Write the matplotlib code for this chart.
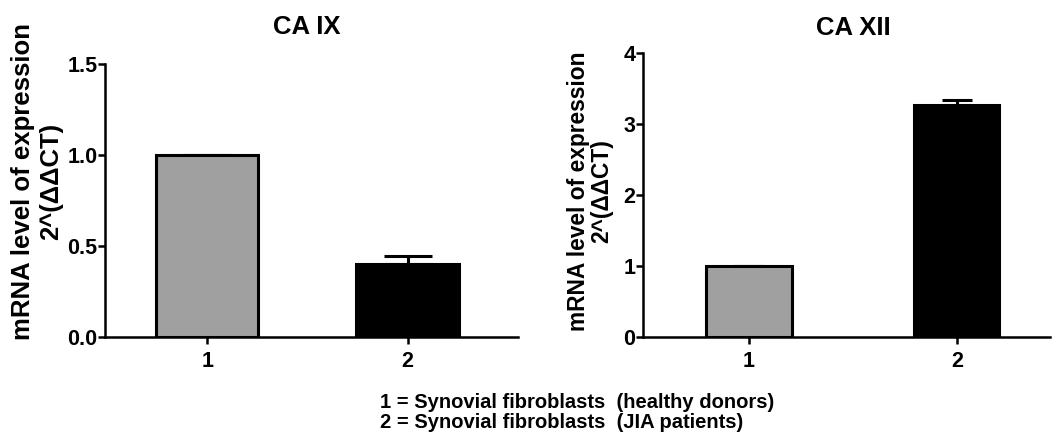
import matplotlib.pyplot as plt
import numpy as np

plt.rcParams['font.family'] = ['Liberation Sans', 'DejaVu Sans']
plt.rcParams['font.weight'] = 'bold'

groups = ['1', '2']
ca9_values = [1.0, 0.40]
ca9_err = [0.0, 0.045]
ca12_values = [1.0, 3.26]
ca12_err = [0.0, 0.07]
bar_colors = ['#a0a0a0', '#000000']
ylabel = 'mRNA level of expression\n2^(\u0394\u0394CT)'
legend_lines = ['1 = Synovial fibroblasts  (healthy donors)',
                '2 = Synovial fibroblasts  (JIA patients)']

fig = plt.figure(figsize=(10.61, 4.37), dpi=100)
ax1 = fig.add_axes([0.099, 0.229, 0.389, 0.625])
ax2 = fig.add_axes([0.606, 0.229, 0.384, 0.650])


def draw_panel(ax, values, err, width, capsize, yticks, ylim, xlim):
    x = np.arange(1, len(values) + 1)
    ax.bar(x, values, width=width, color=bar_colors, edgecolor='black', linewidth=2.2, zorder=2)
    ax.errorbar(x, values, yerr=[np.zeros(len(err)), err], fmt='none', ecolor='black',
                elinewidth=2.2, capsize=capsize, capthick=2.2, zorder=1)
    ax.set_xticks(x)
    ax.set_xticklabels(groups)
    ax.set_yticks(yticks)
    ax.set_ylim(ylim)
    ax.set_xlim(xlim)
    ax.spines['top'].set_visible(False)
    ax.spines['right'].set_visible(False)
    ax.spines['left'].set_linewidth(1.8)
    ax.spines['bottom'].set_linewidth(1.8)
    ax.tick_params(width=1.8, length=5, labelsize=15.5)
    ax.tick_params(axis='y', pad=0.5)
    ax.tick_params(axis='x', pad=5)


draw_panel(ax1, ca9_values, ca9_err, 0.51, 17, [0.0, 0.5, 1.0, 1.5], (0, 1.5), (0.49, 2.55))
ax1.set_yticklabels(['0.0', '0.5', '1.0', '1.5'])
draw_panel(ax2, ca12_values, ca12_err, 0.41, 11, [0, 1, 2, 3, 4], (0, 4), (0.49, 2.45))

# titles
fig.text(307 / 1061, 1 - 27 / 437, 'CA IX', fontsize=18.5, fontweight='bold', ha='center', va='center')
fig.text(853 / 1061, 1 - 28 / 437, 'CA XII', fontsize=18.5, fontweight='bold', ha='center', va='center')

# y labels
fig.text(37 / 1061, 1 - 181 / 437, ylabel, fontsize=18.5, fontweight='bold', rotation=90,
         ha='center', va='center', multialignment='center', linespacing=1.2)
fig.text(590 / 1061, 1 - 191 / 437, ylabel, fontsize=16.4, fontweight='bold', rotation=90,
         ha='center', va='center', multialignment='center', linespacing=1.05)

# group legend
fig.text(380 / 1061, 1 - 403 / 437, legend_lines[0], fontsize=14.5, fontweight='bold', va='center')
fig.text(380 / 1061, 1 - 422 / 437, legend_lines[1], fontsize=14.5, fontweight='bold', va='center')

fig.savefig('out.png', dpi=100)
